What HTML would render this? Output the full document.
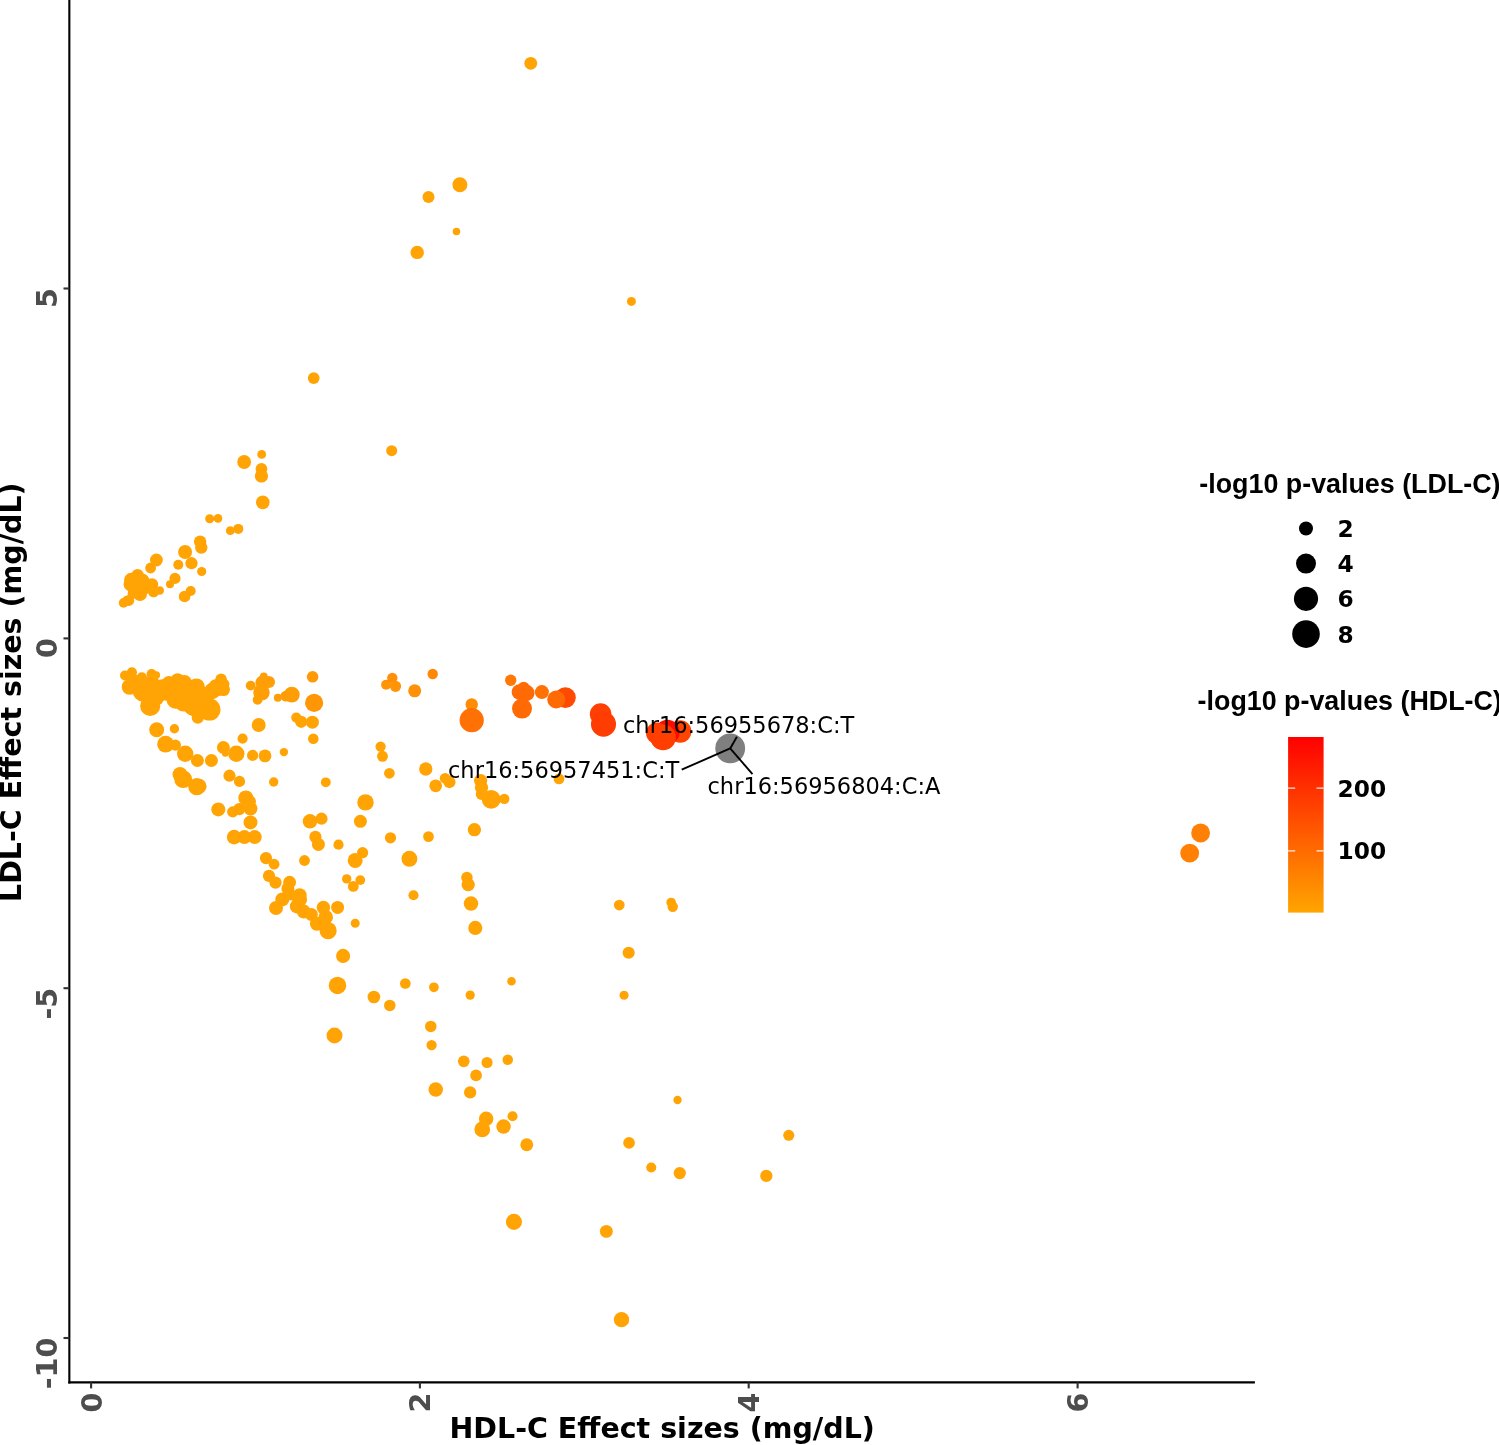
<!DOCTYPE html>
<html><head><meta charset="utf-8"><title>HDL-C vs LDL-C effect sizes</title>
<style>
html,body{margin:0;padding:0;background:#fff;}
body{width:1499px;height:1445px;overflow:hidden;}
svg{display:block;will-change:transform;}
.tk{font-family:"DejaVu Sans","Liberation Sans",sans-serif;font-weight:bold;font-size:28.6px;fill:#4D4D4D;}
.ti{font-family:"DejaVu Sans","Liberation Sans",sans-serif;font-weight:bold;font-size:28.5px;fill:#000;}
.lt{font-family:"Liberation Sans","DejaVu Sans",sans-serif;font-weight:bold;font-size:26.85px;fill:#000;}
.ll{font-family:"DejaVu Sans","Liberation Sans",sans-serif;font-weight:bold;font-size:23.3px;fill:#000;}
.lb{font-family:"DejaVu Sans","Liberation Sans",sans-serif;font-size:22.5px;fill:#000;}
</style></head><body>
<svg width="1499" height="1445" viewBox="0 0 1499 1445">
<defs><linearGradient id="cb" x1="0" y1="0" x2="0" y2="1"><stop offset="0" stop-color="#FF0000"/><stop offset="1" stop-color="#FFA500"/></linearGradient></defs>
<rect width="1499" height="1445" fill="#fff"/>
<g id="points">
<circle cx="530.75" cy="63.3" r="6.4" fill="#FFA404"/>
<circle cx="459.9" cy="184.7" r="7.5" fill="#FFA404"/>
<circle cx="428.5" cy="197.1" r="6.0" fill="#FFA404"/>
<circle cx="456.5" cy="231.5" r="3.8" fill="#FFA404"/>
<circle cx="417.2" cy="252.4" r="6.7" fill="#FFA404"/>
<circle cx="631.4" cy="301.4" r="4.5" fill="#FFA404"/>
<circle cx="313.7" cy="378.1" r="5.9" fill="#FFA404"/>
<circle cx="391.7" cy="450.7" r="5.5" fill="#FFA404"/>
<circle cx="261.7" cy="454.4" r="4.4" fill="#FFA404"/>
<circle cx="244.15" cy="462.0" r="6.9" fill="#FFA404"/>
<circle cx="261.45" cy="468.9" r="5.9" fill="#FFA404"/>
<circle cx="261.45" cy="476.0" r="6.6" fill="#FFA404"/>
<circle cx="262.8" cy="502.4" r="6.8" fill="#FFA404"/>
<circle cx="209.7" cy="518.75" r="4.5" fill="#FFA404"/>
<circle cx="218.0" cy="518.4" r="4.3" fill="#FFA404"/>
<circle cx="230.3" cy="530.65" r="4.4" fill="#FFA404"/>
<circle cx="238.3" cy="528.9" r="5.0" fill="#FFA404"/>
<circle cx="200.1" cy="541.6" r="6.2" fill="#FFA404"/>
<circle cx="201.3" cy="547.6" r="6.2" fill="#FFA404"/>
<circle cx="185.1" cy="552.0" r="7" fill="#FFA404"/>
<circle cx="191.5" cy="563.2" r="6.1" fill="#FFA404"/>
<circle cx="178.3" cy="564.8" r="5" fill="#FFA404"/>
<circle cx="201.7" cy="571.5" r="4.6" fill="#FFA404"/>
<circle cx="156.4" cy="560.0" r="6.4" fill="#FFA404"/>
<circle cx="150.6" cy="568.0" r="5.4" fill="#FFA404"/>
<circle cx="175.0" cy="578.4" r="5.6" fill="#FFA404"/>
<circle cx="170.0" cy="584.3" r="4" fill="#FFA404"/>
<circle cx="190.7" cy="591.0" r="5" fill="#FFA404"/>
<circle cx="184.6" cy="596.5" r="5.8" fill="#FFA404"/>
<circle cx="137.6" cy="575.2" r="6.2" fill="#FFA404"/>
<circle cx="131.2" cy="580.0" r="7.2" fill="#FFA404"/>
<circle cx="130.0" cy="584.4" r="6.4" fill="#FFA404"/>
<circle cx="142.0" cy="581.2" r="7.6" fill="#FFA404"/>
<circle cx="152.0" cy="584.4" r="6.2" fill="#FFA404"/>
<circle cx="140.0" cy="594.1" r="7" fill="#FFA404"/>
<circle cx="153.6" cy="591.7" r="5.6" fill="#FFA404"/>
<circle cx="159.8" cy="590.5" r="4.2" fill="#FFA404"/>
<circle cx="128.8" cy="600.5" r="5.4" fill="#FFA404"/>
<circle cx="123.6" cy="602.9" r="4.8" fill="#FFA404"/>
<circle cx="126.8" cy="599.7" r="4" fill="#FFA404"/>
<circle cx="124.9" cy="675.5" r="4.9" fill="#FFA404"/>
<circle cx="131.9" cy="672.3" r="5.1" fill="#FFA404"/>
<circle cx="129.6" cy="686.8" r="7.9" fill="#FFA404"/>
<circle cx="141.8" cy="677.4" r="5.1" fill="#FFA404"/>
<circle cx="151.6" cy="674.1" r="5.1" fill="#FFA404"/>
<circle cx="156.2" cy="675.1" r="3.9" fill="#FFA404"/>
<circle cx="142.7" cy="691.4" r="10" fill="#FFA404"/>
<circle cx="150.2" cy="705.9" r="10.1" fill="#FFA404"/>
<circle cx="154.8" cy="696.1" r="10" fill="#FFA404"/>
<circle cx="162.3" cy="686.8" r="7.5" fill="#FFA404"/>
<circle cx="168.8" cy="683.0" r="7" fill="#FFA404"/>
<circle cx="177.7" cy="680.2" r="7" fill="#FFA404"/>
<circle cx="184.7" cy="682.1" r="7" fill="#FFA404"/>
<circle cx="196.4" cy="686.8" r="8.4" fill="#FFA404"/>
<circle cx="175.4" cy="699.8" r="8.9" fill="#FFA404"/>
<circle cx="183.8" cy="701.7" r="9.8" fill="#FFA404"/>
<circle cx="194.1" cy="705.4" r="10.7" fill="#FFA404"/>
<circle cx="209.5" cy="709.6" r="11" fill="#FFA404"/>
<circle cx="197.8" cy="717.6" r="6.1" fill="#FFA404"/>
<circle cx="212.3" cy="691.0" r="8.2" fill="#FFA404"/>
<circle cx="221.1" cy="679.3" r="5.8" fill="#FFA404"/>
<circle cx="224.4" cy="684.0" r="5.1" fill="#FFA404"/>
<circle cx="223.5" cy="689.6" r="6.5" fill="#FFA404"/>
<circle cx="218.3" cy="690.5" r="5.6" fill="#FFA404"/>
<circle cx="133.3" cy="680.2" r="6.5" fill="#FFA404"/>
<circle cx="142.7" cy="683.0" r="7.5" fill="#FFA404"/>
<circle cx="152.0" cy="683.0" r="7.5" fill="#FFA404"/>
<circle cx="166.0" cy="692.4" r="8.4" fill="#FFA404"/>
<circle cx="173.5" cy="690.5" r="8.4" fill="#FFA404"/>
<circle cx="184.7" cy="692.4" r="8.4" fill="#FFA404"/>
<circle cx="203.4" cy="694.2" r="7.5" fill="#FFA404"/>
<circle cx="215.5" cy="685.8" r="6.5" fill="#FFA404"/>
<circle cx="221.1" cy="684.9" r="5.6" fill="#FFA404"/>
<circle cx="134.0" cy="587.6" r="7.2" fill="#FFA404"/>
<circle cx="145.2" cy="587.6" r="6.4" fill="#FFA404"/>
<circle cx="132.4" cy="594.1" r="4.8" fill="#FFA404"/>
<circle cx="193.1" cy="694.2" r="3.5" fill="#FFA404"/>
<circle cx="209.9" cy="698.4" r="3.5" fill="#FFA404"/>
<circle cx="250.7" cy="685.6" r="4.9" fill="#FF9F06"/>
<circle cx="263.8" cy="676.5" r="3.9" fill="#FF9E06"/>
<circle cx="262.4" cy="682.6" r="7" fill="#FF9E06"/>
<circle cx="269.0" cy="681.9" r="6" fill="#FF9E06"/>
<circle cx="261.5" cy="692.4" r="8.2" fill="#FF9E06"/>
<circle cx="257.6" cy="699.8" r="4.9" fill="#FF9F06"/>
<circle cx="277.8" cy="697.8" r="4" fill="#FF9F06"/>
<circle cx="285.8" cy="696.1" r="5.4" fill="#FF9D06"/>
<circle cx="291.8" cy="694.7" r="7.9" fill="#FF9D06"/>
<circle cx="312.6" cy="676.8" r="5.8" fill="#FF9A07"/>
<circle cx="314.1" cy="702.9" r="9.1" fill="#FF9606"/>
<circle cx="296.3" cy="717.6" r="5.1" fill="#FFA404"/>
<circle cx="301.2" cy="721.8" r="6.1" fill="#FFA404"/>
<circle cx="312.4" cy="722.2" r="6.5" fill="#FFA404"/>
<circle cx="258.7" cy="725.0" r="7" fill="#FFA404"/>
<circle cx="242.6" cy="738.6" r="5.1" fill="#FFA404"/>
<circle cx="313.3" cy="738.8" r="5.3" fill="#FFA404"/>
<circle cx="283.9" cy="752.1" r="4.2" fill="#FFA404"/>
<circle cx="252.6" cy="755.4" r="5.6" fill="#FFA404"/>
<circle cx="265.0" cy="755.9" r="6.4" fill="#FFA404"/>
<circle cx="156.7" cy="729.7" r="7.5" fill="#FFA404"/>
<circle cx="174.4" cy="728.8" r="4.7" fill="#FFA404"/>
<circle cx="165.6" cy="744.2" r="8.4" fill="#FFA404"/>
<circle cx="175.4" cy="745.1" r="5.6" fill="#FFA404"/>
<circle cx="185.2" cy="753.7" r="8.2" fill="#FFA404"/>
<circle cx="197.4" cy="760.5" r="6.5" fill="#FFA404"/>
<circle cx="211.4" cy="760.5" r="6.5" fill="#FFA404"/>
<circle cx="223.4" cy="747.5" r="6.5" fill="#FFA404"/>
<circle cx="225.3" cy="753.5" r="3.3" fill="#FFA404"/>
<circle cx="236.3" cy="753.7" r="8.2" fill="#FFA404"/>
<circle cx="180.0" cy="774.6" r="7.5" fill="#FFA404"/>
<circle cx="183.2" cy="779.2" r="8.9" fill="#FFA404"/>
<circle cx="196.8" cy="786.7" r="8.6" fill="#FFA404"/>
<circle cx="199.1" cy="786.2" r="7.5" fill="#FFA404"/>
<circle cx="229.5" cy="775.7" r="6.1" fill="#FFA404"/>
<circle cx="239.5" cy="781.4" r="5.6" fill="#FFA404"/>
<circle cx="245.8" cy="797.9" r="7.5" fill="#FFA404"/>
<circle cx="249.5" cy="801.6" r="6.5" fill="#FFA404"/>
<circle cx="250.5" cy="808.6" r="7" fill="#FFA404"/>
<circle cx="239.3" cy="809.1" r="6.1" fill="#FFA404"/>
<circle cx="232.7" cy="811.9" r="5.6" fill="#FFA404"/>
<circle cx="218.3" cy="809.4" r="7" fill="#FFA404"/>
<circle cx="250.5" cy="822.4" r="7" fill="#FFA404"/>
<circle cx="234.1" cy="837.1" r="7.3" fill="#FFA404"/>
<circle cx="244.4" cy="837.1" r="7" fill="#FFA404"/>
<circle cx="254.7" cy="837.1" r="7" fill="#FFA404"/>
<circle cx="273.7" cy="782.0" r="4.7" fill="#FFA404"/>
<circle cx="325.8" cy="782.3" r="4.9" fill="#FFA404"/>
<circle cx="365.5" cy="802.4" r="8.2" fill="#FFA404"/>
<circle cx="360.4" cy="821.3" r="6.5" fill="#FFA404"/>
<circle cx="310.0" cy="821.3" r="7.3" fill="#FFA404"/>
<circle cx="321.5" cy="818.7" r="6.1" fill="#FFA404"/>
<circle cx="315.4" cy="836.9" r="6.1" fill="#FFA404"/>
<circle cx="318.4" cy="844.4" r="6.5" fill="#FFA404"/>
<circle cx="338.5" cy="844.7" r="5.1" fill="#FFA404"/>
<circle cx="390.5" cy="837.8" r="5.6" fill="#FFA404"/>
<circle cx="266.0" cy="858.1" r="6.1" fill="#FFA404"/>
<circle cx="274.1" cy="864.2" r="5.4" fill="#FFA404"/>
<circle cx="304.5" cy="860.5" r="5.4" fill="#FFA404"/>
<circle cx="362.6" cy="852.7" r="5.6" fill="#FFA404"/>
<circle cx="355.2" cy="860.4" r="7.5" fill="#FFA404"/>
<circle cx="346.7" cy="878.9" r="4.7" fill="#FFA404"/>
<circle cx="360.3" cy="880.1" r="4.9" fill="#FFA404"/>
<circle cx="353.3" cy="886.4" r="5.4" fill="#FFA404"/>
<circle cx="269.0" cy="875.9" r="6.1" fill="#FFA404"/>
<circle cx="275.5" cy="882.6" r="6.1" fill="#FFA404"/>
<circle cx="289.6" cy="882.2" r="6.4" fill="#FFA404"/>
<circle cx="287.9" cy="888.7" r="6.5" fill="#FFA404"/>
<circle cx="299.6" cy="895.2" r="7" fill="#FFA404"/>
<circle cx="299.6" cy="899.4" r="7.5" fill="#FFA404"/>
<circle cx="282.3" cy="899.4" r="7" fill="#FFA404"/>
<circle cx="276.0" cy="908.0" r="7" fill="#FFA404"/>
<circle cx="290.7" cy="894.8" r="5.6" fill="#FFA404"/>
<circle cx="296.8" cy="906.4" r="7" fill="#FFA404"/>
<circle cx="303.8" cy="911.6" r="7" fill="#FFA404"/>
<circle cx="311.3" cy="914.4" r="6.5" fill="#FFA404"/>
<circle cx="323.4" cy="907.4" r="6.7" fill="#FFA404"/>
<circle cx="337.6" cy="907.4" r="6.5" fill="#FFA404"/>
<circle cx="325.7" cy="917.2" r="7.3" fill="#FFA404"/>
<circle cx="316.9" cy="923.7" r="7" fill="#FFA404"/>
<circle cx="328.1" cy="930.7" r="8.6" fill="#FFA404"/>
<circle cx="355.2" cy="923.3" r="4.5" fill="#FFA404"/>
<circle cx="392.3" cy="677.9" r="5.2" fill="#FF8E08"/>
<circle cx="386.1" cy="684.8" r="5" fill="#FF9407"/>
<circle cx="395.5" cy="686.3" r="5.6" fill="#FF9407"/>
<circle cx="414.7" cy="690.8" r="6.5" fill="#FF9007"/>
<circle cx="432.7" cy="674.0" r="5.2" fill="#FF8708"/>
<circle cx="471.7" cy="704.5" r="6.2" fill="#FF8C05"/>
<circle cx="471.7" cy="720.2" r="12.1" fill="#FF7005"/>
<circle cx="510.7" cy="680.3" r="5.7" fill="#FF7805"/>
<circle cx="523.7" cy="687.8" r="6" fill="#FF6C05"/>
<circle cx="519.4" cy="692.1" r="7.8" fill="#FF6C05"/>
<circle cx="526.3" cy="693.0" r="8.3" fill="#FF6A05"/>
<circle cx="522.0" cy="708.6" r="10" fill="#FF6A05"/>
<circle cx="541.9" cy="692.1" r="7" fill="#FF7005"/>
<circle cx="565.4" cy="697.6" r="10.4" fill="#FF4A02"/>
<circle cx="556.2" cy="699.5" r="9" fill="#FF6A05"/>
<circle cx="600.6" cy="714.1" r="10.8" fill="#FF4002"/>
<circle cx="603.5" cy="724.2" r="12.5" fill="#FF3C02"/>
<circle cx="680.2" cy="731.5" r="11.2" fill="#FF4500"/>
<circle cx="667.4" cy="732.0" r="12.3" fill="#FF0A00"/>
<circle cx="656.7" cy="733.1" r="10.7" fill="#FF3E00"/>
<circle cx="663.1" cy="737.4" r="12.8" fill="#FF3E00"/>
<circle cx="730.2" cy="748.4" r="14.9" fill="#7F7F7F"/>
<circle cx="380.6" cy="746.6" r="5.15" fill="#FFA404"/>
<circle cx="382.5" cy="756.3" r="5.45" fill="#FFA404"/>
<circle cx="389.4" cy="773.3" r="5.35" fill="#FFA404"/>
<circle cx="425.8" cy="769.0" r="6.65" fill="#FFA404"/>
<circle cx="435.7" cy="785.8" r="6.35" fill="#FFA404"/>
<circle cx="445.1" cy="778.3" r="5.35" fill="#FFA404"/>
<circle cx="449.4" cy="782.0" r="6.15" fill="#FFA404"/>
<circle cx="480.6" cy="780.6" r="6.65" fill="#FFA404"/>
<circle cx="481.5" cy="787.6" r="6.65" fill="#FFA404"/>
<circle cx="481.5" cy="794.2" r="5.75" fill="#FFA404"/>
<circle cx="491.2" cy="799.4" r="9.45" fill="#FFA404"/>
<circle cx="504.3" cy="798.9" r="5.15" fill="#FFA404"/>
<circle cx="559.0" cy="778.9" r="5.35" fill="#FFA404"/>
<circle cx="428.5" cy="836.6" r="5.35" fill="#FFA404"/>
<circle cx="474.4" cy="829.7" r="6.65" fill="#FFA404"/>
<circle cx="409.4" cy="858.8" r="7.95" fill="#FFA404"/>
<circle cx="413.5" cy="895.2" r="5.05" fill="#FFA404"/>
<circle cx="466.9" cy="877.5" r="5.75" fill="#FFA404"/>
<circle cx="468.2" cy="884.6" r="6.65" fill="#FFA404"/>
<circle cx="471.0" cy="903.6" r="7.25" fill="#FFA404"/>
<circle cx="475.3" cy="927.9" r="7.05" fill="#FFA404"/>
<circle cx="343.1" cy="955.9" r="7.05" fill="#FFA404"/>
<circle cx="337.5" cy="985.4" r="8.75" fill="#FFA404"/>
<circle cx="334.5" cy="1035.5" r="7.95" fill="#FFA404"/>
<circle cx="373.9" cy="997.0" r="6.35" fill="#FFA404"/>
<circle cx="389.8" cy="1005.4" r="5.75" fill="#FFA404"/>
<circle cx="405.3" cy="983.5" r="5.35" fill="#FFA404"/>
<circle cx="433.9" cy="987.3" r="4.85" fill="#FFA404"/>
<circle cx="470.2" cy="995.1" r="4.65" fill="#FFA404"/>
<circle cx="511.5" cy="981.3" r="4.25" fill="#FFA404"/>
<circle cx="430.8" cy="1026.4" r="5.75" fill="#FFA404"/>
<circle cx="431.6" cy="1045.1" r="5.15" fill="#FFA404"/>
<circle cx="624.05" cy="995.2" r="4.55" fill="#FFA404"/>
<circle cx="463.75" cy="1061.3" r="5.85" fill="#FFA404"/>
<circle cx="487.05" cy="1062.5" r="5.55" fill="#FFA404"/>
<circle cx="507.75" cy="1059.7" r="5.25" fill="#FFA404"/>
<circle cx="476.05" cy="1075.4" r="5.85" fill="#FFA404"/>
<circle cx="435.75" cy="1089.6" r="7.25" fill="#FFA404"/>
<circle cx="470.15" cy="1092.4" r="6.15" fill="#FFA404"/>
<circle cx="677.55" cy="1100.0" r="4.15" fill="#FFA404"/>
<circle cx="486.15" cy="1118.8" r="7.25" fill="#FFA404"/>
<circle cx="512.55" cy="1116.3" r="5.05" fill="#FFA404"/>
<circle cx="482.25" cy="1129.4" r="7.85" fill="#FFA404"/>
<circle cx="503.55" cy="1126.6" r="7.25" fill="#FFA404"/>
<circle cx="526.75" cy="1144.8" r="6.45" fill="#FFA404"/>
<circle cx="629.05" cy="1142.9" r="5.85" fill="#FFA404"/>
<circle cx="788.75" cy="1135.3" r="5.55" fill="#FFA404"/>
<circle cx="651.25" cy="1167.5" r="5.05" fill="#FFA404"/>
<circle cx="679.75" cy="1173.1" r="6.15" fill="#FFA404"/>
<circle cx="766.35" cy="1175.9" r="6.15" fill="#FFA404"/>
<circle cx="513.95" cy="1221.9" r="8.05" fill="#FFA404"/>
<circle cx="606.35" cy="1231.4" r="6.45" fill="#FFA404"/>
<circle cx="619.25" cy="905.05" r="5.4" fill="#FFA404"/>
<circle cx="671.15" cy="902.45" r="4.8" fill="#FFA404"/>
<circle cx="672.75" cy="906.75" r="5.2" fill="#FFA404"/>
<circle cx="628.65" cy="952.75" r="6.1" fill="#FFA404"/>
<circle cx="1200.6" cy="833.0" r="9.4" fill="#FF8005"/>
<circle cx="1189.7" cy="853.2" r="9.4" fill="#FF8005"/>
<circle cx="621.5" cy="1319.7" r="7.67" fill="#FFA404"/>
</g>
<g id="segments" stroke="#000" stroke-width="1.9" stroke-linecap="butt">
<line x1="730.2" y1="748.4" x2="736.9" y2="736.8"/>
<line x1="730.2" y1="748.4" x2="681.7" y2="769.7"/>
<line x1="730.2" y1="748.4" x2="752.5" y2="774.1"/>
</g>
<g id="labels">
<text class="lb" x="623.0" y="733.0">chr16:56955678:C:T</text>
<text class="lb" x="448.0" y="777.8">chr16:56957451:C:T</text>
<text class="lb" x="707.5" y="794.0">chr16:56956804:C:A</text>
</g>
<g id="axes">
<line x1="69.35" x2="69.35" y1="0" y2="1383.3999999999999" stroke="#000" stroke-width="2.1"/>
<line x1="68.3" x2="1254.9" y1="1382.35" y2="1382.35" stroke="#000" stroke-width="2.1"/>
<line x1="63.5" x2="69.35" y1="288.5" y2="288.5" stroke="#333" stroke-width="2.1"/>
<text class="tk" transform="translate(56.8,288.1) rotate(-90)" text-anchor="end">5</text>
<line x1="63.5" x2="69.35" y1="638.4" y2="638.4" stroke="#333" stroke-width="2.1"/>
<text class="tk" transform="translate(56.8,638.0) rotate(-90)" text-anchor="end">0</text>
<line x1="63.5" x2="69.35" y1="988.2" y2="988.2" stroke="#333" stroke-width="2.1"/>
<text class="tk" transform="translate(56.8,987.8000000000001) rotate(-90)" text-anchor="end">-5</text>
<line x1="63.5" x2="69.35" y1="1338.0" y2="1338.0" stroke="#333" stroke-width="2.1"/>
<text class="tk" transform="translate(56.8,1337.6) rotate(-90)" text-anchor="end">-10</text>
<line x1="91.1" x2="91.1" y1="1382.35" y2="1388.4" stroke="#333" stroke-width="2.1"/>
<text class="tk" transform="translate(101.6,1392.5) rotate(-90)" text-anchor="end">0</text>
<line x1="419.9" x2="419.9" y1="1382.35" y2="1388.4" stroke="#333" stroke-width="2.1"/>
<text class="tk" transform="translate(430.4,1392.5) rotate(-90)" text-anchor="end">2</text>
<line x1="748.7" x2="748.7" y1="1382.35" y2="1388.4" stroke="#333" stroke-width="2.1"/>
<text class="tk" transform="translate(759.2,1392.5) rotate(-90)" text-anchor="end">4</text>
<line x1="1077.6" x2="1077.6" y1="1382.35" y2="1388.4" stroke="#333" stroke-width="2.1"/>
<text class="tk" transform="translate(1088.1,1392.5) rotate(-90)" text-anchor="end">6</text>

<text class="ti" x="449.5" y="1438.4">HDL-C Effect sizes (mg/dL)</text>
<text class="ti" transform="translate(21.1,902.0) rotate(-90)">LDL-C Effect sizes (mg/dL)</text>
</g>
<g id="legend">
<text class="lt" x="1199.3" y="492.6">-log10 p-values (LDL-C)</text>
<circle cx="1306" cy="528.5" r="7"/><text class="ll" x="1337.5" y="537.0">2</text>
<circle cx="1306" cy="563.6" r="10"/><text class="ll" x="1337.5" y="572.1">4</text>
<circle cx="1306" cy="598.8" r="12.1"/><text class="ll" x="1337.5" y="607.3">6</text>
<circle cx="1306" cy="634.1" r="13.8"/><text class="ll" x="1337.5" y="642.6">8</text>
<text class="lt" x="1197.6" y="709.8">-log10 p-values (HDL-C)</text>
<rect x="1288.1" y="737" width="35.5" height="175.6" fill="url(#cb)"/>
<g stroke="#fff" stroke-width="1.1"><line x1="1288.1" x2="1295.2" y1="788.1" y2="788.1"/><line x1="1316.5" x2="1323.6" y1="788.1" y2="788.1"/><line x1="1288.1" x2="1295.2" y1="850.9" y2="850.9"/><line x1="1316.5" x2="1323.6" y1="850.9" y2="850.9"/></g>
<text class="ll" x="1337.5" y="796.6">200</text>
<text class="ll" x="1337.5" y="859.4">100</text>
</g>
</svg>
</body></html>
